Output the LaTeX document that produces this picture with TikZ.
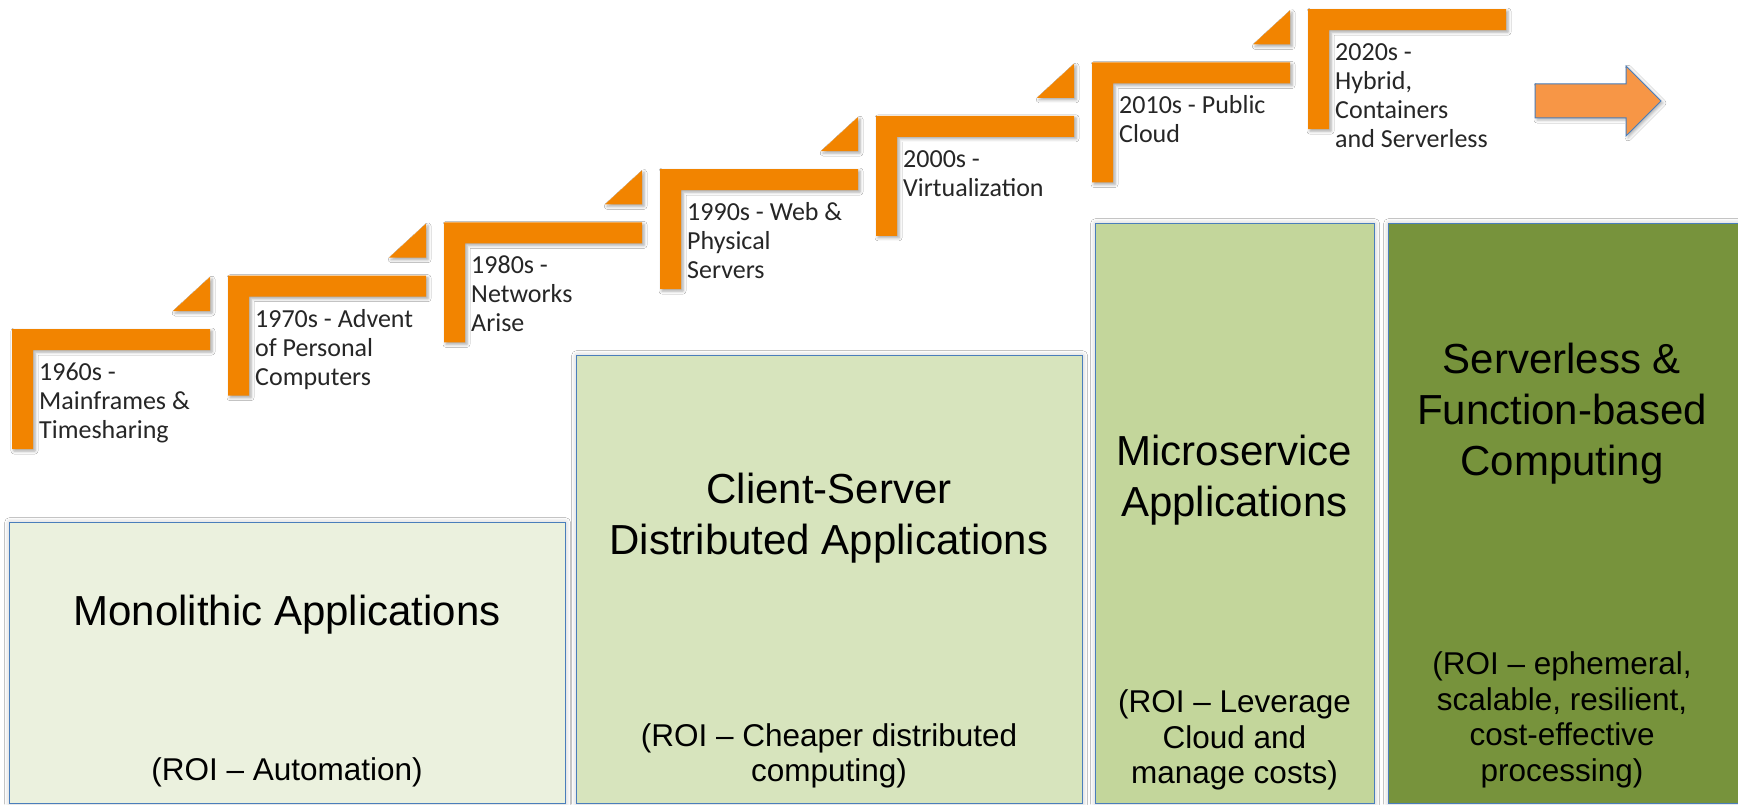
\documentclass[tikz,border=0pt]{standalone}
\usepackage{fontspec}
\setmainfont{Liberation Sans}
\newfontfamily\stepfont{Carlito}
\usetikzlibrary{shadows.blur}

\definecolor{steporange}{HTML}{F28400}
\definecolor{arroworange}{HTML}{F79646}
\definecolor{boxedge}{HTML}{4A7EBB}
\definecolor{monofill}{HTML}{EBF1DE}
\definecolor{csfill}{HTML}{D7E4BD}
\definecolor{msfill}{HTML}{C3D69B}
\definecolor{slfill}{HTML}{77933C}

\begin{document}
\begin{tikzpicture}[x=1pt,y=-1pt,
  stepshape/.style={fill=steporange,
    blur shadow={shadow xshift=2pt,shadow yshift=-2pt,shadow blur radius=3pt,shadow opacity=35}},
  steplabel/.style={anchor=north west,inner sep=0pt,align=left,text=black!85,
    font=\stepfont\fontsize{26}{29}\selectfont},
  era/.style={draw=boxedge,line width=1.2pt,anchor=north west,inner sep=0pt,
    blur shadow={shadow xshift=0pt,shadow yshift=0pt,shadow blur radius=5pt,shadow opacity=25}},
  title/.style={font=\fontsize{42}{51}\selectfont,align=center,inner sep=0pt},
  roi/.style={font=\fontsize{31.5}{35.5}\selectfont,align=center,inner sep=0pt}
]
\useasboundingbox (0,0) rectangle (1738,805);
\fill[white] (0,0) rectangle (1738,805);

% era boxes
\node[era,fill=monofill,minimum width=556pt,minimum height=281pt] (mono) at (9,522) {};
\node[era,fill=csfill,minimum width=506pt,minimum height=448pt] (cs) at (576,355) {};
\node[era,fill=msfill,minimum width=279pt,minimum height=580pt] (ms) at (1095,223) {};
\node[era,fill=slfill,minimum width=352pt,minimum height=580pt] (sl) at (1388,223) {};

\node[title] (monoT) at (287,615) {Monolithic Applications};
\node[roi] (monoR) at (287,772) {(ROI \textendash{} Automation)};

\node[title] (csT) at (829,518) {Client-Server\\Distributed Applications};
\node[roi] (csR) at (829,756) {(ROI \textendash{} Cheaper distributed\\computing)};

\node[title] (msT) at (1234.5,480) {Microservice\\Applications};
\node[roi] (msR) at (1234.5,740) {(ROI \textendash{} Leverage\\Cloud and\\manage costs)};

\node[title] (slT) at (1562,414) {Serverless \&\\Function-based\\Computing};
\node[roi] (slR) at (1562,720) {(ROI \textendash{} ephemeral,\\scalable, resilient,\\cost-effective\\processing)};

% staircase of decades
\foreach \i/\txt in {
  0/{1960s -\\Mainframes \&\\Timesharing},
  1/{1970s - Advent\\of Personal\\Computers},
  2/{1980s -\\Networks\\Arise},
  3/{1990s - Web \&\\Physical\\Servers},
  4/{2000s -\\Virtualization},
  5/{2010s - Public\\Cloud},
  6/{2020s -\\Hybrid,\\Containers\\and Serverless}}{
  \pgfmathsetmacro\xo{12+216*\i}
  \pgfmathsetmacro\yo{329-53.3*\i}
  \coordinate (s\i) at (\xo,\yo);
  \path[stepshape] (s\i) -- ++(198,0) -- ++(0,21) -- ++(-177,0) -- ++(0,99)
    -- ++(-21,0) -- cycle;
  \ifnum\i<6
    \path[stepshape] (s\i) ++(161,-18) -- ++(37,0) -- ++(0,-34) -- cycle;
  \fi
  \node[steplabel] (lab\i) at ([shift={(27,31)}]s\i) {\strut\txt};
}

% arrow pointing onward
\coordinate (ar) at (1535,84);
\path[fill=arroworange,draw=boxedge,line width=1pt,line join=miter,
  blur shadow={shadow xshift=2pt,shadow yshift=-2pt,shadow blur radius=3pt,shadow opacity=30}]
  (ar) -- ++(91,0) -- ++(0,-18) -- ++(35,35) -- ++(-35,35) -- ++(0,-18)
  -- ++(-91,0) -- cycle;
\end{tikzpicture}
\end{document}
